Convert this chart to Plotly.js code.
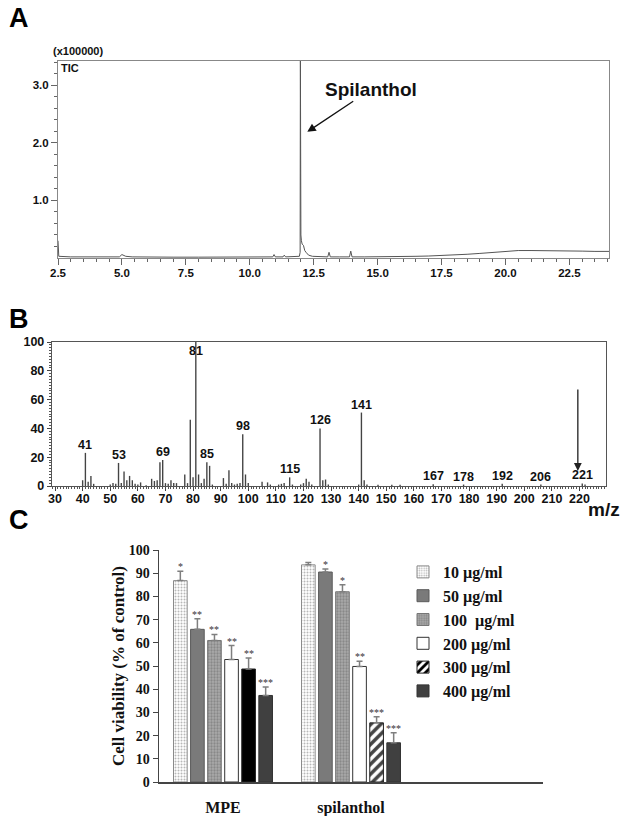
<!DOCTYPE html>
<html>
<head>
<meta charset="utf-8">
<script src="https://cdn.plot.ly/plotly-3.0.1.min.js"></script>
<style>
html,body{margin:0;padding:0;background:#fff;}
#chart{width:625px;height:816px;}
</style>
</head>
<body>
<div id="chart"></div>
<script>
// ---------- Panel A : TIC chromatogram ----------
const ticTime = [2.5, 2.51, 2.53, 3.0, 3.5, 4.0, 4.5, 4.9, 5.0, 5.05, 5.15, 5.4, 6.0, 7.0, 8.0, 9.0, 10.0, 10.9, 10.95, 11.0, 11.3, 11.35, 11.4, 11.8, 11.94, 11.97, 11.98, 11.99, 12.0, 12.02, 12.05, 12.1, 12.15, 12.2, 12.3, 12.45, 12.8, 13.05, 13.1, 13.15, 13.5, 13.9, 13.95, 14.0, 14.5, 15.0, 15.5, 16.0, 16.5, 17.0, 17.4, 17.45, 17.5, 18.0, 18.5, 19.0, 19.5, 20.0, 20.5, 21.0, 21.5, 22.0, 22.5, 23.0, 23.5, 24.0, 24.1];
const ticIntensity = [0.30, 0.12, 0.03, 0.02, 0.02, 0.02, 0.02, 0.02, 0.06, 0.05, 0.03, 0.02, 0.015, 0.015, 0.015, 0.015, 0.015, 0.02, 0.06, 0.02, 0.02, 0.05, 0.02, 0.02, 0.03, 0.10, 3.50, 3.10, 0.40, 0.30, 0.24, 0.22, 0.13, 0.10, 0.05, 0.03, 0.02, 0.02, 0.10, 0.02, 0.02, 0.02, 0.12, 0.02, 0.02, 0.02, 0.025, 0.03, 0.03, 0.035, 0.04, 0.05, 0.04, 0.05, 0.065, 0.08, 0.10, 0.12, 0.13, 0.13, 0.13, 0.125, 0.12, 0.12, 0.115, 0.115, 0.115];

// ---------- Panel B : mass spectrum ----------
const mzValues = [40, 41, 42, 43, 44, 50, 51, 52, 53, 54, 55, 56, 57, 58, 59, 60, 61, 63, 65, 66, 67, 68, 69, 70, 71, 72, 73, 74, 77, 78, 79, 80, 81, 82, 83, 84, 85, 86, 87, 91, 92, 93, 94, 95, 96, 97, 98, 99, 100, 105, 107, 108, 111, 112, 113, 115, 116, 119, 120, 121, 122, 123, 126, 127, 128, 129, 140, 141, 142, 143, 147, 152, 155, 167, 178, 192, 206, 221, 222];
const mzIntensity = [4, 23, 3, 7, 1.5, 1, 2, 1.5, 16, 2, 10, 4, 7, 4, 1.5, 1, 2.5, 0.5, 5, 3.5, 4, 16.5, 18, 2, 1.5, 4, 2, 2, 8, 2, 46, 6, 100, 8, 2, 5, 16.5, 14, 1, 5.5, 1.5, 11, 2, 1, 1.5, 2, 36, 8, 2, 3, 2.5, 1, 1, 1.5, 2, 6, 1, 1, 2, 5, 3, 1, 40, 4, 4.5, 1, 1, 51, 4, 1, 0.8, 0.8, 0.8, 1.2, 1, 1.5, 1, 1.8, 1];
const mzLabels = [41, 53, 69, 81, 85, 98, 115, 126, 141, 167, 178, 192, 206, 221];

// ---------- Panel C : cell viability ----------
const groups = ['MPE', 'spilanthol'];
const doses = ['10 µg/ml', '50 µg/ml', '100  µg/ml', '200 µg/ml', '300 µg/ml', '400 µg/ml'];
const mpeViability = [86.8, 65.8, 61.0, 52.8, 48.7, 37.3];
const mpeError = [4.0, 4.6, 2.6, 6.0, 4.8, 3.6];
const mpeStars = ['*', '**', '**', '**', '**', '***'];
const spilViability = [93.6, 90.5, 82.0, 49.8, 25.5, 16.9];
const spilError = [1.0, 1.3, 3.0, 2.2, 2.6, 4.3];
const spilStars = ['', '*', '*', '**', '***', '***'];

const W = 625, H = 816;
const px = v => v / W;
const py = v => 1 - v / H;

const sans = 'Arial, "Liberation Sans", sans-serif';
const serif = '"Times New Roman", "Liberation Serif", serif';

const traces = [];

// A
traces.push({
  type: 'scatter', mode: 'lines', x: ticTime, y: ticIntensity,
  xaxis: 'x', yaxis: 'y', line: {color: '#555', width: 1}, showlegend: false, hoverinfo: 'skip'
});

// B
traces.push({
  type: 'bar', x: mzValues, y: mzIntensity, xaxis: 'x2', yaxis: 'y2', width: 0.5,
  marker: {color: '#444', line: {width: 0}}, showlegend: false, hoverinfo: 'skip'
});

// C styles
const styles = [
  {color: '#ffffff', shape: '.', fg: '#9a9a9a', size: 3, solidity: 0.35, op: 0.7, line: '#8a8a8a'},
  {color: '#7a7a7a', shape: '', line: '#5a5a5a'},
  {color: '#aaaaaa', shape: '.', fg: '#7a7a7a', size: 3, solidity: 0.45, op: 0.7, line: '#777'},
  {color: '#ffffff', shape: '', line: '#333'},
  null,
  {color: '#404040', shape: '', line: '#333'}
];

for (let i = 0; i < doses.length; i++) {
  let xs = [groups[0], groups[1]];
  let ys = [mpeViability[i], spilViability[i]];
  let es = [mpeError[i], spilError[i]];
  let marker;
  if (i === 4) {
    // 300 µg/ml : hatched for spilanthol (listed first so the legend shows the hatch), black for MPE
    xs = [groups[1], groups[0]];
    ys = [spilViability[i], mpeViability[i]];
    es = [spilError[i], mpeError[i]];
    marker = {
      color: ['#ffffff', '#000000'],
      line: {color: '#222', width: 1},
      pattern: {shape: ['/', ''], fgcolor: '#000', fgopacity: 1, size: 7, solidity: 0.5, fillmode: 'overlay'}
    };
  } else {
    const s = styles[i];
    marker = {color: s.color, line: {color: s.line, width: 1}};
    if (s.shape) marker.pattern = {shape: s.shape, fgcolor: s.fg, fgopacity: s.op, size: s.size, solidity: s.solidity, fillmode: 'overlay'};
  }
  traces.push({
    type: 'bar', name: doses[i], x: xs, y: ys, xaxis: 'x3', yaxis: 'y3',
    marker: marker,
    error_y: {type: 'data', array: es, arrayminus: es.map(() => 0), symmetric: false, color: '#7f7f7f', thickness: 1.5, width: 3},
    hoverinfo: 'skip'
  });
}

const bargap = 0.2;
const slot = (1 - bargap) / doses.length;

const annotations = [];
const ann = (o) => annotations.push(Object.assign({showarrow: false}, o));

// Panel letters
ann({xref: 'paper', yref: 'paper', x: px(7), y: py(18), xanchor: 'left', yanchor: 'middle', text: 'A', font: {family: sans, size: 27, weight: 'bold', color: '#000'}});
ann({xref: 'paper', yref: 'paper', x: px(7), y: py(319), xanchor: 'left', yanchor: 'middle', text: 'B', font: {family: sans, size: 27, weight: 'bold', color: '#000'}});
ann({xref: 'paper', yref: 'paper', x: px(7), y: py(520), xanchor: 'left', yanchor: 'middle', text: 'C', font: {family: sans, size: 27, weight: 'bold', color: '#000'}});

// Panel A texts
ann({xref: 'paper', yref: 'paper', x: px(78), y: py(51), xanchor: 'center', yanchor: 'middle', text: '(x100000)', font: {family: sans, size: 11, weight: 'bold', color: '#111'}});
ann({xref: 'paper', yref: 'paper', x: px(59), y: py(68), xanchor: 'left', yanchor: 'middle', text: 'TIC', font: {family: sans, size: 11, weight: 'bold', color: '#111'}});
annotations.push({
  xref: 'x', yref: 'y', x: 12.25, y: 2.19, axref: 'x', ayref: 'y', ax: 14.75, ay: 2.93,
  text: 'Spilanthol', showarrow: true, arrowhead: 2, arrowsize: 1.3, arrowwidth: 1.3, arrowcolor: '#111',
  font: {family: sans, size: 19, weight: 'bold', color: '#111'}
});

// Panel B peak labels
mzLabels.forEach(m => {
  const v = mzIntensity[mzValues.indexOf(m)];
  if (m === 81) {
    ann({xref: 'x2', yref: 'y2', x: m, y: v, xanchor: 'center', yanchor: 'top', yshift: 0, text: String(m), font: {family: sans, size: 12.5, weight: 'bold', color: '#111'}});
  } else {
    ann({xref: 'x2', yref: 'y2', x: m, y: v, xanchor: 'center', yanchor: 'bottom', yshift: -1, text: String(m), font: {family: sans, size: 12.5, weight: 'bold', color: '#111'}});
  }
});
annotations.push({
  xref: 'x2', yref: 'y2', x: 219.4, y: 10.5, axref: 'x2', ayref: 'y2', ax: 219.4, ay: 74,
  text: ' ', showarrow: true, arrowhead: 2, arrowsize: 1.2, arrowwidth: 1.3, arrowcolor: '#222'
});
ann({xref: 'paper', yref: 'paper', x: px(604), y: py(509), xanchor: 'center', yanchor: 'middle', text: 'm/z', font: {family: sans, size: 19, weight: 'bold', color: '#111'}});

// Panel C significance stars
for (let i = 0; i < doses.length; i++) {
  const off = -(1 - bargap) / 2 + slot * (i + 0.5);
  [[0, mpeViability, mpeError, mpeStars], [1, spilViability, spilError, spilStars]].forEach(([g, vals, errs, stars]) => {
    if (!stars[i]) return;
    ann({xref: 'x3', yref: 'y3', x: g + off, y: vals[i] + errs[i], xanchor: 'center', yanchor: 'bottom', yshift: -3,
      text: stars[i], font: {family: serif, size: 10, color: '#333'}});
  });
}

const layout = {
  width: W, height: H,
  margin: {l: 0, r: 0, t: 0, b: 0},
  paper_bgcolor: '#fff', plot_bgcolor: 'rgba(0,0,0,0)',
  barmode: 'group', bargap: bargap, bargroupgap: 0.2,
  showlegend: true,
  legend: {
    x: px(403), y: py(555), xanchor: 'left', yanchor: 'top',
    font: {family: serif, size: 16, weight: 'bold', color: '#111'},
    bgcolor: 'rgba(0,0,0,0)', tracegroupgap: 0, itemclick: false
  },
  annotations: annotations,
  // A
  xaxis: {
    domain: [px(58), px(609)], anchor: 'y', range: [2.5, 24.05],
    tickmode: 'linear', tick0: 2.5, dtick: 2.5, tickformat: '.1f',
    ticks: 'outside', ticklen: 6, tickcolor: '#666', tickwidth: 1,
    minor: {tickmode: 'linear', tick0: 2.5, dtick: 0.5, ticks: 'outside', ticklen: 3, tickcolor: '#666'},
    showline: true, linecolor: '#888', linewidth: 1, mirror: true,
    showgrid: false, zeroline: false, ticklabelstandoff: -2,
    tickfont: {family: sans, size: 11.5, weight: 'bold', color: '#111'}
  },
  yaxis: {
    domain: [py(258), py(61)], anchor: 'x', range: [0.0005, 3.42],
    tickmode: 'linear', tick0: 1, dtick: 1, tickformat: '.1f',
    ticks: 'outside', ticklen: 6, tickcolor: '#666',
    minor: {tickmode: 'linear', tick0: 0, dtick: 0.2, ticks: 'outside', ticklen: 3, tickcolor: '#666'},
    showline: true, linecolor: '#888', linewidth: 1, mirror: true,
    showgrid: false, zeroline: false,
    tickfont: {family: sans, size: 11.5, weight: 'bold', color: '#111'}
  },
  // B
  xaxis2: {
    domain: [px(52), px(606)], anchor: 'y2', range: [28.9, 229.6],
    tickmode: 'linear', tick0: 30, dtick: 10,
    ticks: 'outside', ticklen: 4, tickcolor: '#444',
    minor: {tickmode: 'linear', tick0: 30, dtick: 1, ticks: 'outside', ticklen: 2, tickcolor: '#555'},
    showline: true, linecolor: '#555', linewidth: 1.2, mirror: true,
    showgrid: false, zeroline: false, ticklabelstandoff: -3,
    tickfont: {family: sans, size: 12.5, weight: 'bold', color: '#111'}
  },
  yaxis2: {
    domain: [py(486), py(342)], anchor: 'x2', range: [0, 100],
    tickmode: 'linear', tick0: 0, dtick: 20,
    ticks: 'outside', ticklen: 4, tickcolor: '#444',
    minor: {tickmode: 'linear', tick0: 0, dtick: 2, ticks: 'outside', ticklen: 2, tickcolor: '#555'},
    showline: true, linecolor: '#555', linewidth: 1.2, mirror: true,
    showgrid: false, zeroline: false,
    tickfont: {family: sans, size: 12.5, weight: 'bold', color: '#111'}
  },
  // C
  xaxis3: {
    domain: [px(159), px(543)], anchor: 'y3', type: 'category',
    categoryorder: 'array', categoryarray: ['MPE', 'spilanthol', ' '], range: [-0.5, 2.5],
    ticks: '', showline: true, linecolor: '#444', linewidth: 1.5,
    showgrid: false, zeroline: false, ticklabelstandoff: 10,
    tickfont: {family: serif, size: 16, weight: 'bold', color: '#111'}
  },
  yaxis3: {
    domain: [py(782), py(550)], anchor: 'x3', range: [0, 100],
    tickmode: 'linear', tick0: 0, dtick: 10,
    ticks: 'outside', ticklen: 5, tickcolor: '#444',
    showline: true, linecolor: '#444', linewidth: 1.5,
    showgrid: false, zeroline: false,
    tickfont: {family: serif, size: 14, weight: 'bold', color: '#111'},
    title: {text: 'Cell viability (% of control)', font: {family: serif, size: 17, weight: 'bold', color: '#111'}, standoff: 0}
  }
};

Plotly.newPlot('chart', traces, layout, {staticPlot: true, displayModeBar: false});
</script>
</body>
</html>
